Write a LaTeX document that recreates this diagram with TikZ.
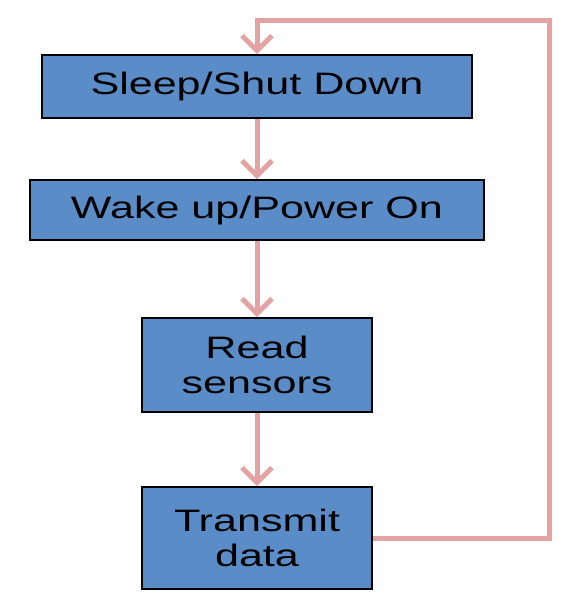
\documentclass[tikz,border=0pt]{standalone}
\usepackage{fontspec}
\setmainfont{Liberation Sans}
\newfontfamily\boxfont[FakeStretch=1.39]{Liberation Sans}
\usetikzlibrary{arrows.meta}
\definecolor{boxblue}{HTML}{5A8DC8}
\definecolor{linkpink}{HTML}{E4A3A3}

\begin{document}
\begin{tikzpicture}[x=1pt,y=-1pt,
  stepbox/.style={draw=black,line width=1.6pt,fill=boxblue,inner sep=0pt,align=center,
    font=\boxfont\fontsize{31}{35}\selectfont},
  link/.style={draw=linkpink,line width=5pt,
    -{Straight Barb[length=15pt,width=30pt,line width=5pt]}}]
  \useasboundingbox (0,0) rectangle (565,598);
  \node[stepbox,minimum width=430pt,minimum height=63pt] (sleep) at (257,86.5) {Sleep/Shut Down};
  \node[stepbox,minimum width=454pt,minimum height=60pt] (wake) at (257,210) {Wake up/Power On};
  \node[stepbox,minimum width=230pt,minimum height=94pt] (read) at (257,365) {Read\\sensors};
  \node[stepbox,minimum width=230pt,minimum height=102pt] (send) at (257,538) {Transmit\\data};
  \coordinate (loop) at (549,20);
  \draw[link] (sleep) -- (wake);
  \draw[link] (wake) -- (read);
  \draw[link] (read) -- (send);
  \draw[link] (send.east) -| (loop) -| (sleep.north);
\end{tikzpicture}
\end{document}
